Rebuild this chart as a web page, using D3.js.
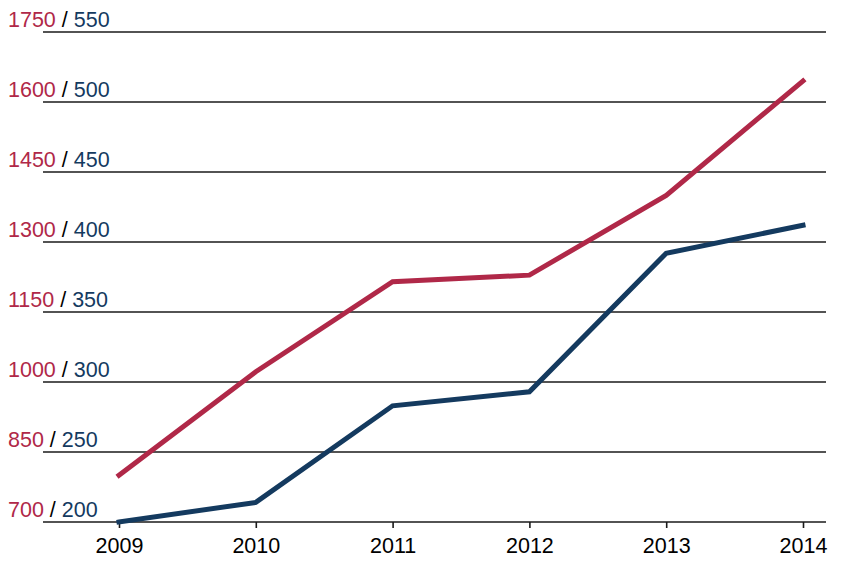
<!DOCTYPE html>
<html><head><meta charset="utf-8">
<script src="https://cdn.jsdelivr.net/npm/d3@7"></script>
<style>body{margin:0;background:#fff}svg{display:block}</style>
</head><body>
<svg id="c" width="854" height="565"></svg>
<script>
const years = [2009, 2010, 2011, 2012, 2013, 2014];
const redValues = [800, 1022, 1215, 1229, 1400, 1645];
const blueValues = [200, 214, 283, 293, 392, 412];
const redTicks = [700, 850, 1000, 1150, 1300, 1450, 1600, 1750];
const blueTicks = [200, 250, 300, 350, 400, 450, 500, 550];

const RED = "#b02848", BLUE = "#143a5f";
const FONT = "Helvetica, Arial, 'Liberation Sans', sans-serif";
const svg = d3.select("#c");
const x = d3.scalePoint().domain(years).range([119, 803]);
const yR = d3.scaleLinear().domain([700, 1750]).range([522, 32]);
const yB = d3.scaleLinear().domain([200, 550]).range([522, 32]);

// gridlines
svg.append("g").selectAll("line").data(redTicks).join("line")
  .attr("x1", 43).attr("x2", 826)
  .attr("y1", d => yR(d)).attr("y2", d => yR(d))
  .attr("stroke", "#1a1a1a").attr("stroke-width", 1.6);

// tick labels
const lab = svg.append("g").style("font-family", FONT).style("font-size", "21.5px");
redTicks.forEach((t, i) => {
  const txt = lab.append("text").attr("x", 8).attr("y", yR(t) - 5);
  txt.append("tspan").attr("fill", RED).text(t);
  txt.append("tspan").attr("fill", "#000").text(" / ");
  txt.append("tspan").attr("fill", BLUE).text(blueTicks[i]);
});

// x axis
const xa = svg.append("g").attr("transform", "translate(0,522)")
  .call(d3.axisBottom(x).tickSize(6).tickPadding(10).tickSizeOuter(0));
xa.select(".domain").remove();
xa.selectAll(".tick line").attr("stroke", "#1a1a1a").attr("stroke-width", 1.6);
xa.selectAll(".tick text").attr("fill", "#000")
  .style("font-family", FONT).style("font-size", "21.5px");

// lines
const lineR = d3.line().x((d, i) => x(years[i])).y(d => yR(d));
const lineB = d3.line().x((d, i) => x(years[i])).y(d => yB(d));
svg.append("path").attr("d", lineB(blueValues)).attr("fill", "none")
  .attr("stroke", BLUE).attr("stroke-width", 5).attr("stroke-linecap", "square");
svg.append("path").attr("d", lineR(redValues)).attr("fill", "none")
  .attr("stroke", RED).attr("stroke-width", 5).attr("stroke-linecap", "square");
</script>
</body></html>
